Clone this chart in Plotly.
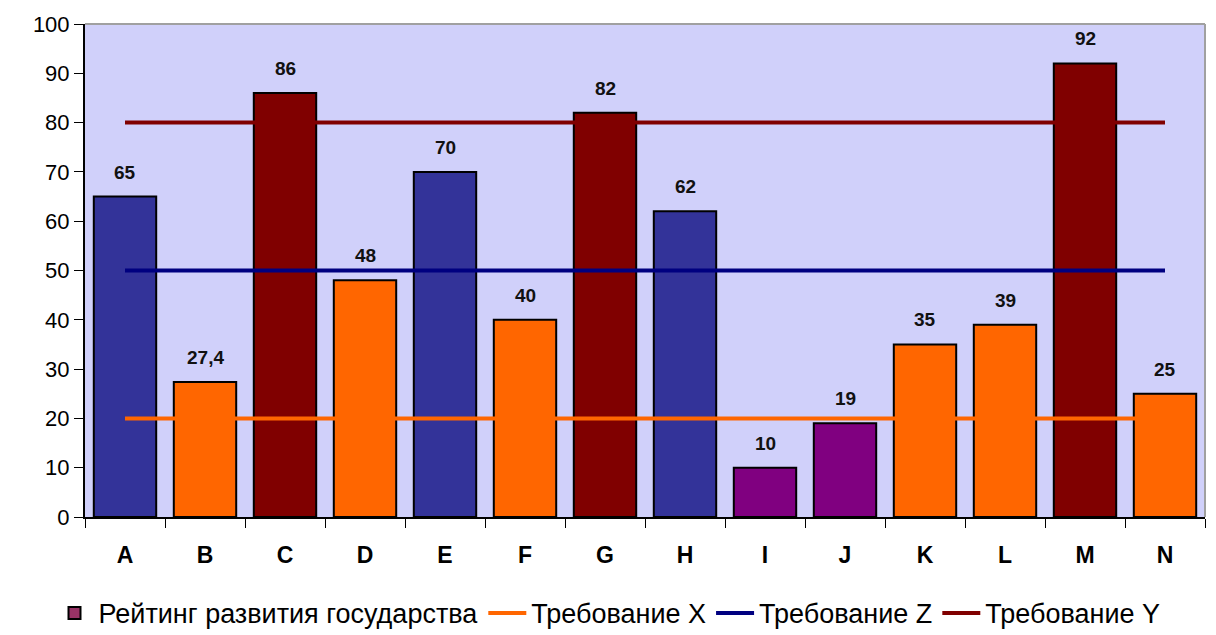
import plotly.graph_objects as go

categories = ["A", "B", "C", "D", "E", "F", "G", "H", "I", "J", "K", "L", "M", "N"]
values = [65, 27.4, 86, 48, 70, 40, 82, 62, 10, 19, 35, 39, 92, 25]
value_labels = ["65", "27,4", "86", "48", "70", "40", "82", "62", "10", "19", "35", "39", "92", "25"]
bar_colors = ["#333399", "#FF6600", "#800000", "#FF6600", "#333399", "#FF6600", "#800000",
              "#333399", "#800080", "#800080", "#FF6600", "#FF6600", "#800000", "#FF6600"]
req_x = [20] * len(categories)
req_z = [50] * len(categories)
req_y = [80] * len(categories)

font_family = "Liberation Sans, Arial, sans-serif"

fig = go.Figure()
fig.add_trace(go.Bar(
    x=categories, y=values, marker=dict(color=bar_colors, line=dict(color="black", width=2)),
    width=0.78, showlegend=False, name="Рейтинг развития государства",
))
fig.add_trace(go.Bar(
    x=[None], y=[None], name="Рейтинг развития государства",
    marker=dict(color="#993366", line=dict(color="black", width=2)),
))
fig.add_trace(go.Scatter(x=categories, y=req_x, mode="lines", name="Требование X",
                         line=dict(color="#FF6600", width=4)))
fig.add_trace(go.Scatter(x=categories, y=req_z, mode="lines", name="Требование Z",
                         line=dict(color="#000080", width=4)))
fig.add_trace(go.Scatter(x=categories, y=req_y, mode="lines", name="Требование Y",
                         line=dict(color="#800000", width=4)))

annotations = [
    dict(x=c, y=v, xref="x", yref="y", text=f"<b>{t}</b>", showarrow=False,
         yanchor="bottom", yshift=12, font=dict(size=19, color="#111111", family=font_family))
    for c, v, t in zip(categories, values, value_labels)
]

fig.update_layout(
    width=1216, height=635,
    margin=dict(l=85, r=11, t=24, b=118),
    paper_bgcolor="white", plot_bgcolor="#D0D0FA",
    barmode="overlay",
    font=dict(family=font_family, color="black"),
    xaxis=dict(
        type="category", showline=True, linecolor="black", linewidth=2,
        ticks="outside", tickson="boundaries", ticklen=9, tickcolor="black",
        tickfont=dict(size=23, family=font_family, weight="bold"),
        ticklabelstandoff=16,
        showgrid=False, automargin=False,
    ),
    yaxis=dict(
        range=[0, 100], dtick=10, showline=True, linecolor="black", linewidth=2,
        ticks="outside", ticklen=9, tickcolor="black",
        tickfont=dict(size=22, family=font_family),
        showgrid=False, zeroline=False, automargin=False,
    ),
    legend=dict(orientation="h", x=0.5, xanchor="center", xref="container",
                y=0.034, yanchor="middle", yref="container",
                font=dict(size=27, family=font_family), traceorder="normal",
                itemwidth=38, tracegroupgap=0),
    annotations=annotations,
    shapes=[
        dict(type="line", xref="paper", yref="paper", x0=0, x1=1, y0=1, y1=1,
             line=dict(color="#A0A0A0", width=2)),
        dict(type="line", xref="paper", yref="paper", x0=1, x1=1, y0=0, y1=1,
             line=dict(color="#A0A0A0", width=2)),
    ],
)

fig.write_html("out.html", config={"displayModeBar": False},
               post_script="document.body.style.margin='0';document.body.style.overflow='hidden';")
